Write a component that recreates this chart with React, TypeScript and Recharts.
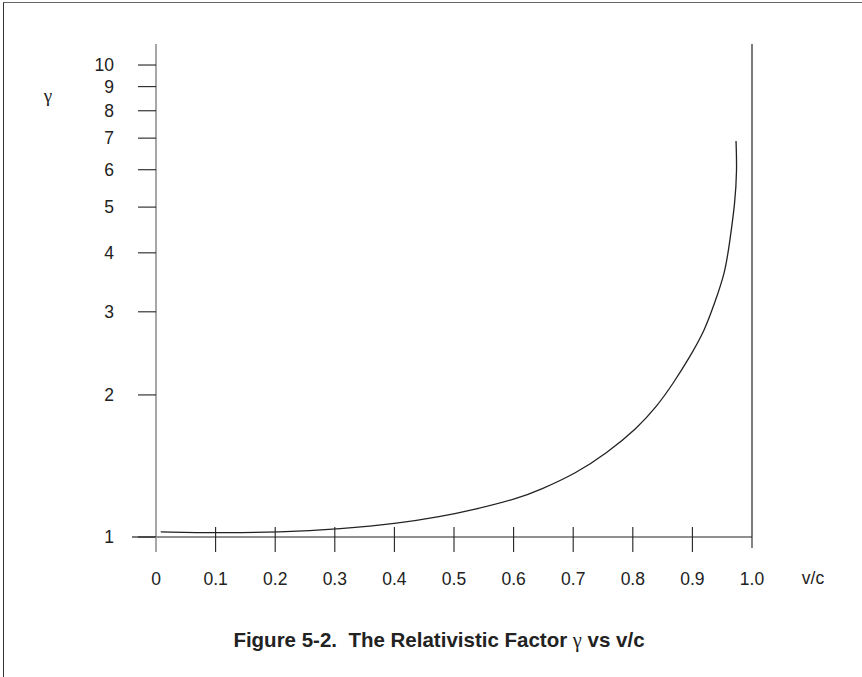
import { ComposedChart, Line, XAxis, YAxis, ReferenceLine } from 'recharts';

// curve: v/c and gamma
const speeds = [0.008, 0.104, 0.206, 0.31, 0.408, 0.477, 0.532, 0.608, 0.644, 0.705, 0.756, 0.807, 0.84, 0.868, 0.896, 0.921, 0.936, 0.955, 0.963, 0.9715, 0.9748, 0.9732];
const gammas = [1.025, 1.02, 1.023, 1.04, 1.069, 1.104, 1.141, 1.208, 1.258, 1.365, 1.504, 1.699, 1.888, 2.117, 2.41, 2.746, 3.101, 3.625, 4.258, 5.101, 5.991, 6.902];

const xTicks = [0, 0.1, 0.2, 0.3, 0.4, 0.5, 0.6, 0.7, 0.8, 0.9, 1];
const xTickLabels = ['0', '0.1', '0.2', '0.3', '0.4', '0.5', '0.6', '0.7', '0.8', '0.9', '1.0'];
const yTicks = [1, 2, 3, 4, 5, 6, 7, 8, 9, 10];

const curve = speeds.map((v, i) => ({ v, gamma: gammas[i] }));

const font = '"Liberation Sans", Arial, sans-serif';
const ink = '#222';

function XTick(props: any) {
  const { x, y, payload } = props;
  const first = payload.value === 0;
  const last = payload.value === 1;
  const label = xTickLabels[xTicks.indexOf(payload.value)];
  return (
    <g>
      {first && <line x1={x - 24} x2={x} y1={y} y2={y} stroke={ink} strokeWidth={1.2} />}
      <line
        x1={x}
        x2={x}
        y1={first || last ? y : y - 10}
        y2={y + (last ? 11 : 15)}
        stroke={first ? '#8a8a8a' : ink}
        strokeWidth={first ? 1.5 : 1.1}
      />
      <text x={x} y={y + 48} textAnchor="middle" fill={ink} fontSize={17.5} fontFamily={font}>
        {label}
      </text>
    </g>
  );
}

export default function App() {
  return (
    <div style={{ position: 'absolute', left: 0, top: 0, width: 862, height: 677, background: '#fff', fontFamily: font }}>
      <div style={{ position: 'absolute', left: 3, top: 2, width: 859, height: 675, borderTop: '1.5px solid #666', borderLeft: '1px solid #333' }} />
      <ComposedChart width={862} height={677} data={curve} margin={{ top: 44, right: 110, bottom: 80, left: 96 }}>
        <XAxis
          dataKey="v"
          type="number"
          domain={[0, 1]}
          ticks={xTicks}
          interval={0}
          height={60}
          tickLine={false}
          tickSize={0}
          tickMargin={0}
          axisLine={{ stroke: ink, strokeWidth: 1.2 }}
          tick={<XTick />}
        />
        <YAxis
          type="number"
          scale="log"
          domain={[1, 11.08]}
          allowDataOverflow
          ticks={yTicks}
          interval={0}
          width={60}
          tickSize={18}
          tickMargin={24}
          axisLine={{ stroke: '#8a8a8a', strokeWidth: 1.5 }}
          tickLine={{ stroke: ink, strokeWidth: 1.1 }}
          tick={{ fill: ink, fontSize: 17.5, fontFamily: font }}
        />
        <ReferenceLine x={1} stroke="#333" strokeWidth={1.3} />
        <Line
          dataKey="gamma"
          type="basis"
          stroke={ink}
          strokeWidth={1.3}
          dot={false}
          activeDot={false}
          isAnimationActive={false}
        />
      </ComposedChart>
      <div style={{ position: 'absolute', left: 790, top: 568, width: 46, textAlign: 'center', fontSize: 17.5, color: ink }}>v/c</div>
      <div style={{ position: 'absolute', left: 38, top: 85, width: 20, textAlign: 'center', fontSize: 19, color: ink, fontFamily: '"Liberation Serif", serif' }}>γ</div>
      <div style={{ position: 'absolute', left: 139, top: 628, width: 600, textAlign: 'center', fontSize: 20.5, fontWeight: 'bold', color: ink, whiteSpace: 'pre' }}>
        {'Figure 5-2.  The Relativistic Factor '}
        <span style={{ fontFamily: '"Liberation Serif", serif', fontWeight: 'normal' }}>γ</span>
        {' vs v/c'}
      </div>
    </div>
  );
}
